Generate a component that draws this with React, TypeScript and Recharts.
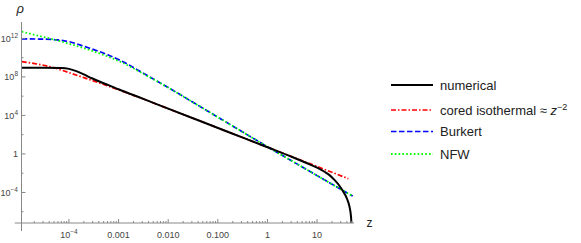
import { LineChart, Line, XAxis, YAxis, ReferenceLine } from 'recharts';

// z and rho
const numericalZ = [1.12e-5, 3.16e-5, 7.2e-5, 1.0e-4, 1.41e-4, 2.0e-4, 2.9e-4, 4.0e-4, 6.3e-4, 1.0e-3, 3.16e-3, 0.01, 0.044, 0.2, 1, 3.16, 6.3, 10, 14.1, 17.8, 22.4, 28.2, 33.1, 39.8, 44.7, 47.3, 49.0, 50.1];
const numericalRho = [9.1e8, 9.1e8, 8.5e8, 6.8e8, 4.0e8, 1.8e8, 7.2e7, 3.5e7, 1.4e7, 5.2e6, 5.2e5, 5.0e4, 2.6e3, 126, 5.0, 0.48, 0.107, 0.038, 0.0141, 0.0063, 0.002, 5.0e-4, 1.41e-4, 2.5e-5, 4.0e-6, 7.9e-7, 1.0e-7, 1e-9];

const coredZ = [1.12e-5, 2.5e-5, 5.0e-5, 1.0e-4, 2.0e-4, 4.0e-4, 1.0e-3, 3.16e-3, 0.01, 0.044, 0.2, 1, 3.16, 10, 42.7];
const coredRho = [3.8e9, 2.0e9, 8.9e8, 2.8e8, 8.3e7, 2.5e7, 4.5e6, 5.0e5, 5.0e4, 2.6e3, 126, 5.0, 0.5, 0.05, 2.7e-3];

const burkertZ = [1.12e-5, 2.5e-5, 6.0e-5, 1.12e-4, 2.1e-4, 3.55e-4, 6.2e-4, 1.26e-3, 3.16e-3, 0.01, 0.044, 0.182, 1, 2.24, 10, 52.2];
const burkertRho = [8.9e11, 8.5e11, 6.9e11, 4.0e11, 1.38e11, 5.6e10, 1.9e10, 3.5e9, 2.4e8, 7.9e6, 8.3e4, 1.05e3, 5.6, 0.5, 5.6e-3, 4.2e-5];

const nfwZ = [1.12e-5, 2.5e-5, 4.4e-5, 1.0e-4, 2.5e-4, 6.2e-4, 1.26e-3, 3.16e-3, 0.01, 0.044, 0.182, 1, 2.24, 10, 52.2];
const nfwRho = [5.0e12, 1.8e12, 8.9e11, 2.8e11, 6.6e10, 1.26e10, 2.6e9, 2.1e8, 7.6e6, 8.3e4, 1.05e3, 5.6, 0.5, 5.6e-3, 4.2e-5];

const xMajorTicks = [1e-4, 1e-3, 1e-2, 1e-1, 1, 10];
const xTickLabels = ['10^−4', '0.001', '0.010', '0.100', '1', '10'];
const xMinorTicks = [
  2e-5, 3e-5, 4e-5, 5e-5, 6e-5, 7e-5, 8e-5, 9e-5,
  2e-4, 3e-4, 4e-4, 5e-4, 6e-4, 7e-4, 8e-4, 9e-4,
  2e-3, 3e-3, 4e-3, 5e-3, 6e-3, 7e-3, 8e-3, 9e-3,
  0.02, 0.03, 0.04, 0.05, 0.06, 0.07, 0.08, 0.09,
  0.2, 0.3, 0.4, 0.5, 0.6, 0.7, 0.8, 0.9,
  2, 3, 4, 5, 6, 7, 8, 9,
  20, 30, 40, 50,
];
const yMajorTicks = [1e-4, 1, 1e4, 1e8, 1e12];
const yTickLabels = ['10^−4', '1', '10^4', '10^8', '10^12'];
const yMinorTicks = [1e-6, 1e-2, 1e2, 1e6, 1e10];

const xDomain = [1.107e-5, 55.5];
const yDomain = [6.76e-8, 5.01e13];

const zip = (zs: number[], rhos: number[]) => zs.map((z, i) => ({ z, rho: rhos[i] }));

const axisColor = '#888';
const labelColor = '#444';
const font = '"Liberation Sans", Arial, sans-serif';

function TickText({ x, y, label, anchor }: { x: number; y: number; label: string; anchor: 'middle' | 'end' }) {
  const [base, exp] = label.split('^');
  return (
    <text x={x} y={y} textAnchor={anchor} fontSize={9} fill={labelColor} fontFamily={font}>
      {base}
      {exp && (
        <tspan fontSize={6.5} dy={-4}>
          {exp}
        </tspan>
      )}
    </text>
  );
}

const XTick = (props: any) => {
  const { x, y, payload } = props;
  const i = xMajorTicks.indexOf(payload.value);
  const major = i >= 0;
  return (
    <g>
      <line x1={x} y1={y} x2={x} y2={y - (major ? 4 : 2)} stroke={axisColor} />
      {major && <TickText x={x} y={y + 14.5} label={xTickLabels[i]} anchor="middle" />}
    </g>
  );
};

const YTick = (props: any) => {
  const { x, y, payload } = props;
  const i = yMajorTicks.indexOf(payload.value);
  const major = i >= 0;
  return (
    <g>
      <line x1={x} y1={y} x2={x + (major ? 4 : 2)} y2={y} stroke={axisColor} />
      {major && <TickText x={x - 3.5} y={y + 3.3} label={yTickLabels[i]} anchor="end" />}
    </g>
  );
};

const legendRows = [
  { y: 85, color: '#000', dash: undefined, width: 2, label: 'numerical' },
  { y: 110, color: '#ff0000', dash: '5 2 1.5 2', width: 1.7, label: 'cored' },
  { y: 131.5, color: '#0000ff', dash: '5.5 2.5', width: 1.7, label: 'Burkert' },
  { y: 154, color: '#00ff00', dash: '1.6 2.2', width: 1.8, label: 'NFW' },
];

export default function App() {
  return (
    <div style={{ position: 'absolute', left: 0, top: 0, width: 581, height: 243, background: '#fff' }}>
      <LineChart width={581} height={243} margin={{ top: 22, right: 227, bottom: 0, left: 0 }}>
        <XAxis
          dataKey="z"
          type="number"
          scale="log"
          domain={xDomain}
          allowDataOverflow
          ticks={[...xMinorTicks, ...xMajorTicks]}
          interval={0}
          tick={<XTick />}
          tickLine={false}
          tickSize={0}
          tickMargin={0}
          height={20}
          axisLine={{ stroke: axisColor }}
        />
        <YAxis
          dataKey="rho"
          type="number"
          scale="log"
          domain={yDomain}
          allowDataOverflow
          ticks={[...yMinorTicks, ...yMajorTicks]}
          interval={0}
          tick={<YTick />}
          tickLine={false}
          tickSize={0}
          tickMargin={0}
          width={21.5}
          axisLine={{ stroke: axisColor }}
        />
        <ReferenceLine
          segment={[{ x: xDomain[0], y: 1e-8 }, { x: xDomain[0], y: yDomain[0] }]}
          stroke={axisColor}
          ifOverflow="visible"
        />
        <ReferenceLine
          segment={[{ x: 8.1e-6, y: yDomain[0] }, { x: xDomain[0], y: yDomain[0] }]}
          stroke={axisColor}
          ifOverflow="visible"
        />
        <Line data={zip(coredZ, coredRho)} dataKey="rho" type="monotone" stroke="#ff0000" strokeWidth={1.7} strokeDasharray="5 2 1.5 2" dot={false} isAnimationActive={false} />
        <Line data={zip(burkertZ, burkertRho)} dataKey="rho" type="monotone" stroke="#0000ff" strokeWidth={1.7} strokeDasharray="5.5 2.5" dot={false} isAnimationActive={false} />
        <Line data={zip(nfwZ, nfwRho)} dataKey="rho" type="monotone" stroke="#00ff00" strokeWidth={1.8} strokeDasharray="1.6 2.2" dot={false} isAnimationActive={false} />
        <Line data={zip(numericalZ, numericalRho)} dataKey="rho" type="monotone" stroke="#000" strokeWidth={2} dot={false} isAnimationActive={false} />
      </LineChart>
      <svg width={581} height={243} style={{ position: 'absolute', left: 0, top: 0, pointerEvents: 'none' }}>
        <text x={16.5} y={13} fontSize={13} fontStyle="italic" fontFamily={font} fill="#222">ρ</text>
        <text x={366.5} y={227} fontSize={12} fontFamily={font} fill="#222">z</text>
        {legendRows.map((r) => (
          <g key={r.label}>
            <line x1={391} y1={r.y} x2={433} y2={r.y} stroke={r.color} strokeWidth={r.width} strokeDasharray={r.dash} />
            <text x={440} y={r.y + 4.5} fontSize={13} fontFamily={font} fill="#222">
              {r.label === 'cored' ? (
                <>
                  cored isothermal ≈ <tspan fontStyle="italic">z</tspan>
                  <tspan fontSize={9} dy={-5}>−2</tspan>
                </>
              ) : (
                r.label
              )}
            </text>
          </g>
        ))}
      </svg>
    </div>
  );
}
